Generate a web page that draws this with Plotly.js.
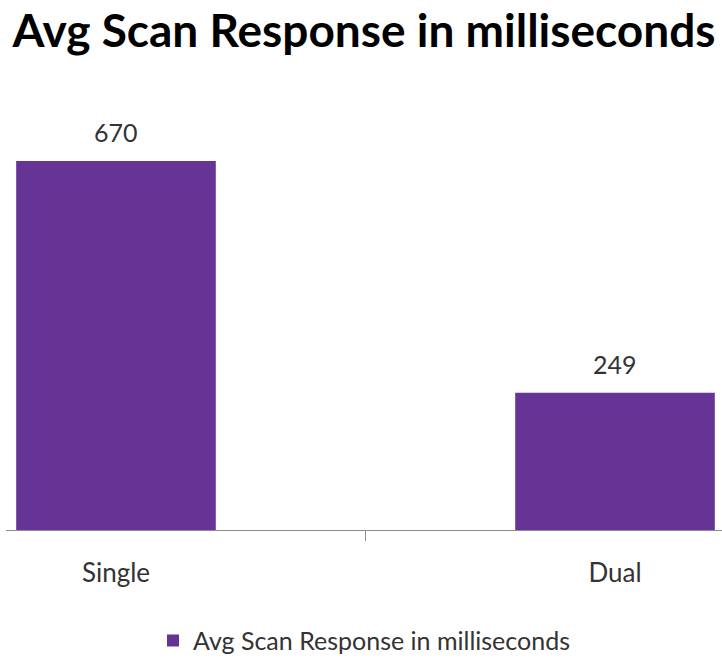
<!DOCTYPE html>
<html>
<head>
<meta charset="utf-8">
<script src="https://cdn.plot.ly/plotly-3.0.1.min.js"></script>
<style>html,body{margin:0;padding:0;background:#fff}#chart{width:722px;height:658px}</style>
</head>
<body>
<div id="chart"></div>
<script>
const categories = ["Single", "Dual"];
const values = [670, 249];
const seriesName = "Avg Scan Response in milliseconds";
const chartTitle = "Avg Scan Response in milliseconds";

const FONT = "Lato, 'Open Sans', sans-serif";

const trace = {
  type: "bar",
  x: categories,
  y: values,
  name: seriesName,
  width: 0.4,
  marker: { color: "#663494", line: { width: 0 } },
  showlegend: true,
  hoverinfo: "x+y"
};

const annotations = categories.map((c, i) => ({
  x: c, y: values[i], xref: "x", yref: "y",
  text: String(values[i]), showarrow: false,
  yanchor: "bottom", yshift: 12,
  font: { family: FONT, size: 25, color: "#333333" }
}));

const layout = {
  width: 722, height: 658,
  margin: { l: 6, r: 0, t: 100, b: 128, autoexpand: false },
  paper_bgcolor: "#ffffff", plot_bgcolor: "#ffffff",
  title: {
    text: "<b>" + chartTitle + "</b>",
    x: 0.5, xref: "paper", xanchor: "center",
    y: 0.953, yref: "container", yanchor: "middle",
    font: { family: FONT, size: 46, color: "#000000" }
  },
  xaxis: {
    type: "category",
    range: [-0.2204, 1.2144],
    automargin: false,
    showline: true, linecolor: "#8c8c8c", linewidth: 1,
    ticks: "outside", tickson: "boundaries", ticklen: 10, tickcolor: "#8c8c8c",
    ticklabelstandoff: 20,
    tickfont: { family: FONT, size: 26, color: "#333333" },
    showgrid: false, zeroline: false, fixedrange: true
  },
  yaxis: {
    range: [0, 780.8],
    visible: false, showgrid: false, zeroline: false, fixedrange: true
  },
  showlegend: true,
  legend: {
    orientation: "h", x: 0.5, xanchor: "center",
    y: -0.204, yref: "paper", yanchor: "top",
    font: { family: FONT, size: 25, color: "#333333" },
    itemwidth: 30
  },
  annotations: annotations
};

Plotly.newPlot("chart", [trace], layout, { displayModeBar: false, staticPlot: true });
</script>
</body>
</html>
